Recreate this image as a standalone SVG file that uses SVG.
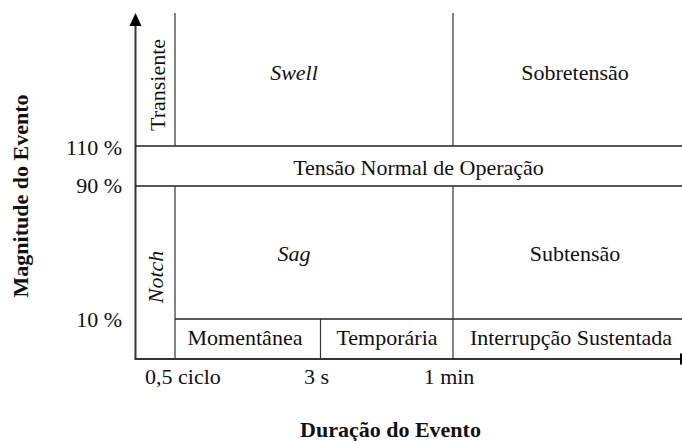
<svg xmlns="http://www.w3.org/2000/svg" width="682" height="441" viewBox="0 0 682 441">
  <style>
    text { font-family: "Liberation Serif", "Times New Roman", serif; font-size: 22px; fill: #111; }
    .c { text-anchor: middle; }
    .r { text-anchor: end; }
    .i { font-style: italic; }
    .b { font-weight: bold; }
    .ln { stroke: #222; stroke-width: 1.5; fill: none; }
    .vl { stroke: #333; stroke-width: 1.2; fill: none; }
    .ax { stroke: #333; stroke-width: 2; fill: none; }
  </style>
  <rect width="682" height="441" fill="#fff"/>
  <g id="connectors">
    <line class="ax" x1="135.5" y1="359" x2="135.5" y2="24"/>
    <polygon points="135.5,13 129.5,26 141.5,26" fill="#000"/>
    <line class="ax" x1="134.5" y1="359" x2="681" y2="359"/>
    <polygon points="680,353 692,359 680,365" fill="#000"/>
    <line class="ln" x1="135" y1="146" x2="682" y2="146"/>
    <line class="ln" x1="135" y1="186" x2="682" y2="186"/>
    <line class="ln" x1="175" y1="319" x2="682" y2="319"/>
    <line class="vl" x1="175" y1="13" x2="175" y2="146"/>
    <line class="vl" x1="175" y1="186" x2="175" y2="359"/>
    <line class="vl" x1="453" y1="13" x2="453" y2="146"/>
    <line class="vl" x1="453" y1="186" x2="453" y2="359"/>
    <line class="vl" x1="320.5" y1="319" x2="320.5" y2="359"/>
  </g>
  <g id="transiente"><text class="c" transform="translate(165,85) rotate(-90)">Transiente</text></g>
  <g id="swell"><text class="c i" x="294" y="80">Swell</text></g>
  <g id="sobretensao"><text class="c" x="575" y="80">Sobretensão</text></g>
  <g id="normal"><text class="c" x="418.5" y="175">Tensão Normal de Operação</text></g>
  <g id="notch"><text class="c i" transform="translate(163,277) rotate(-90)">Notch</text></g>
  <g id="sag"><text class="c i" x="294" y="261">Sag</text></g>
  <g id="subtensao"><text class="c" x="575" y="261">Subtensão</text></g>
  <g id="momentanea"><text class="c" x="245" y="345">Momentânea</text></g>
  <g id="temporaria"><text class="c" x="387" y="345">Temporária</text></g>
  <g id="interrupcao"><text class="c" x="571" y="345">Interrupção Sustentada</text></g>
  <g id="yticks">
    <text class="r" x="122" y="155">110 %</text>
    <text class="r" x="122" y="193">90 %</text>
    <text class="r" x="122" y="327">10 %</text>
  </g>
  <g id="xticks">
    <text x="145" y="384">0,5 ciclo</text>
    <text class="c" x="316.5" y="384">3 s</text>
    <text class="c" x="449" y="384">1 min</text>
  </g>
  <g id="ylabel"><text class="c b" transform="translate(28,196) rotate(-90)">Magnitude do Evento</text></g>
  <g id="xlabel"><text class="c b" x="390.5" y="437">Duração do Evento</text></g>
</svg>
